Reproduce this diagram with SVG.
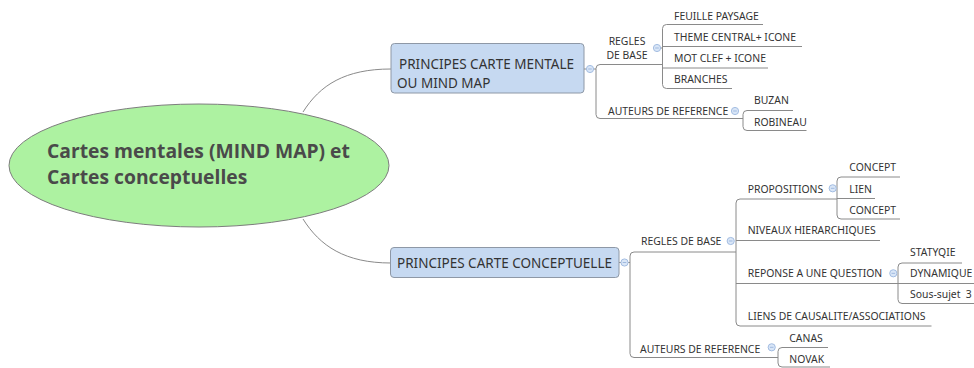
<svg xmlns="http://www.w3.org/2000/svg" width="974" height="368" viewBox="0 0 974 368">
  <style>
    .ln { fill: none; stroke: #8a8a8a; stroke-width: 1; }
    .lbl { font-family: "Noto Sans", "Liberation Sans", sans-serif; font-size: 10.4px; fill: #333333; }
    .mid { text-anchor: middle; }
    .pre { white-space: pre; }
    .box { fill: #c6d9f1; stroke: #8e98a6; stroke-width: 1; }
    .main { font-family: "Noto Sans", "Liberation Sans", sans-serif; font-size: 13.5px; fill: #333333; }
    .title { font-family: "Open Sans", "Noto Sans", sans-serif; font-size: 19.3px; font-weight: bold; fill: #4a4a4a; }
    .tog { fill: #d9e6f7; stroke: #a3bde2; stroke-width: 1; }
    .tog-bar { stroke: #9fb9df; stroke-width: 1; }
  </style>
  <defs>
    <g id="toggle">
      <circle class="tog" r="3.6"/>
      <line class="tog-bar" x1="-1.8" y1="0" x2="1.8" y2="0"/>
    </g>
  </defs>

  <!-- connectors -->
  <g id="connectors">
    <!-- central topic to main branches -->
    <path class="ln" d="M303,112 C320,85 345,69 391,69"/>
    <path class="ln" d="M303,219 C320,246 345,263 391,263"/>

    <!-- PRINCIPES CARTE MENTALE -->
    <path class="ln" d="M584,69 H596"/>
    <path class="ln" d="M662.5,64.5 H600 Q596,64.5 596,68.5 V114.5 Q596,118.5 600,118.5 H743"/>
    <!-- REGLES DE BASE (upper) children -->
    <path class="ln" d="M660,48 H662.5"/>
    <path class="ln" d="M763,24.5 H666.5 Q662.5,24.5 662.5,28.5 V84.5 Q662.5,88.5 666.5,88.5 H732"/>
    <path class="ln" d="M662.5,46.5 H802"/>
    <path class="ln" d="M662.5,68 H768"/>
    <!-- AUTEURS DE REFERENCE (upper) children -->
    <path class="ln" d="M793,110.5 H747 Q743,110.5 743,114.5 V126.5 Q743,130.5 747,130.5 H806.5"/>

    <!-- PRINCIPES CARTE CONCEPTUELLE -->
    <path class="ln" d="M619,262.5 H630"/>
    <path class="ln" d="M736,252 H634 Q630,252 630,256 V353.5 Q630,357.5 634,357.5 H778"/>
    <!-- REGLES DE BASE (lower) children -->
    <path class="ln" d="M837,199 H740 Q736,199 736,203 V322 Q736,326 740,326 H931.5"/>
    <path class="ln" d="M736,240.5 H880"/>
    <path class="ln" d="M736,283.5 H898"/>
    <!-- PROPOSITIONS children -->
    <path class="ln" d="M900,177 H841 Q837,177 837,181 V215 Q837,219 841,219 H900"/>
    <path class="ln" d="M837,198.5 H875"/>
    <!-- REPONSE A UNE QUESTION children -->
    <path class="ln" d="M962,263 H902 Q898,263 898,267 V299.5 Q898,303.5 902,303.5 H974"/>
    <path class="ln" d="M898,283.5 H974"/>
    <!-- AUTEURS DE REFERENCE (lower) children -->
    <path class="ln" d="M828,347.5 H782 Q778,347.5 778,351.5 V363 Q778,367 782,367 H830"/>
  </g>

  <!-- central topic -->
  <g id="central">
    <ellipse cx="199" cy="165.5" rx="190" ry="61.5" fill="#adf2a1" stroke="#7d7d7d" stroke-width="1"/>
    <text class="title" x="47" y="158.3">Cartes mentales (MIND MAP) et</text>
    <text class="title" x="47" y="184">Cartes conceptuelles</text>
  </g>

  <!-- main branch: mind map -->
  <g id="principes-mentale">
    <rect class="box" x="391" y="43.5" width="193" height="49.5" rx="3.5"/>
    <text class="main" x="399" y="69">PRINCIPES CARTE MENTALE</text>
    <text class="main" x="397" y="87.5">OU MIND MAP</text>
    <use href="#toggle" x="590" y="69"/>
  </g>

  <g id="regles-mentale">
    <text class="lbl mid" x="627" y="44.5">REGLES</text>
    <text class="lbl mid" x="627" y="59">DE BASE</text>
    <use href="#toggle" x="657" y="48"/>
  </g>
  <g id="feuille"><text class="lbl" x="674" y="20">FEUILLE PAYSAGE</text></g>
  <g id="theme"><text class="lbl" x="674" y="41">THEME CENTRAL+ ICONE</text></g>
  <g id="motclef"><text class="lbl" x="674" y="62.3">MOT CLEF + ICONE</text></g>
  <g id="branches"><text class="lbl" x="674" y="83.3">BRANCHES</text></g>

  <g id="auteurs-mentale">
    <text class="lbl" x="608" y="115">AUTEURS DE REFERENCE</text>
    <use href="#toggle" x="735" y="111"/>
  </g>
  <g id="buzan"><text class="lbl" x="754" y="104.3">BUZAN</text></g>
  <g id="robineau"><text class="lbl" x="754" y="126">ROBINEAU</text></g>

  <!-- main branch: concept map -->
  <g id="principes-conceptuelle">
    <rect class="box" x="390.5" y="247.5" width="228.5" height="30" rx="3.5"/>
    <text class="main" x="397" y="268">PRINCIPES CARTE CONCEPTUELLE</text>
    <use href="#toggle" x="624.5" y="262.5"/>
  </g>

  <g id="regles-conceptuelle">
    <text class="lbl" x="641" y="245">REGLES DE BASE</text>
    <use href="#toggle" x="730.7" y="241"/>
  </g>
  <g id="propositions">
    <text class="lbl" x="747.7" y="192.7">PROPOSITIONS</text>
    <use href="#toggle" x="832.7" y="188.3"/>
  </g>
  <g id="concept-1"><text class="lbl" x="849.3" y="171">CONCEPT</text></g>
  <g id="lien"><text class="lbl" x="849.3" y="192.7">LIEN</text></g>
  <g id="concept-2"><text class="lbl" x="849.3" y="214.3">CONCEPT</text></g>
  <g id="niveaux"><text class="lbl" x="747.7" y="234.3">NIVEAUX HIERARCHIQUES</text></g>
  <g id="reponse">
    <text class="lbl" x="747.7" y="277">REPONSE A UNE QUESTION</text>
    <use href="#toggle" x="893.3" y="273.3"/>
  </g>
  <g id="statyqie"><text class="lbl" x="910" y="256">STATYQIE</text></g>
  <g id="dynamique"><text class="lbl" x="910" y="277">DYNAMIQUE</text></g>
  <g id="sous-sujet-3"><text class="lbl pre" x="910" y="297.7">Sous-sujet  3</text></g>
  <g id="liens-causalite"><text class="lbl" x="747.7" y="320">LIENS DE CAUSALITE/ASSOCIATIONS</text></g>

  <g id="auteurs-conceptuelle">
    <text class="lbl" x="640" y="352.7">AUTEURS DE REFERENCE</text>
    <use href="#toggle" x="771.7" y="347.3"/>
  </g>
  <g id="canas"><text class="lbl" x="789.3" y="341.7">CANAS</text></g>
  <g id="novak"><text class="lbl" x="789.3" y="362.7">NOVAK</text></g>
</svg>
